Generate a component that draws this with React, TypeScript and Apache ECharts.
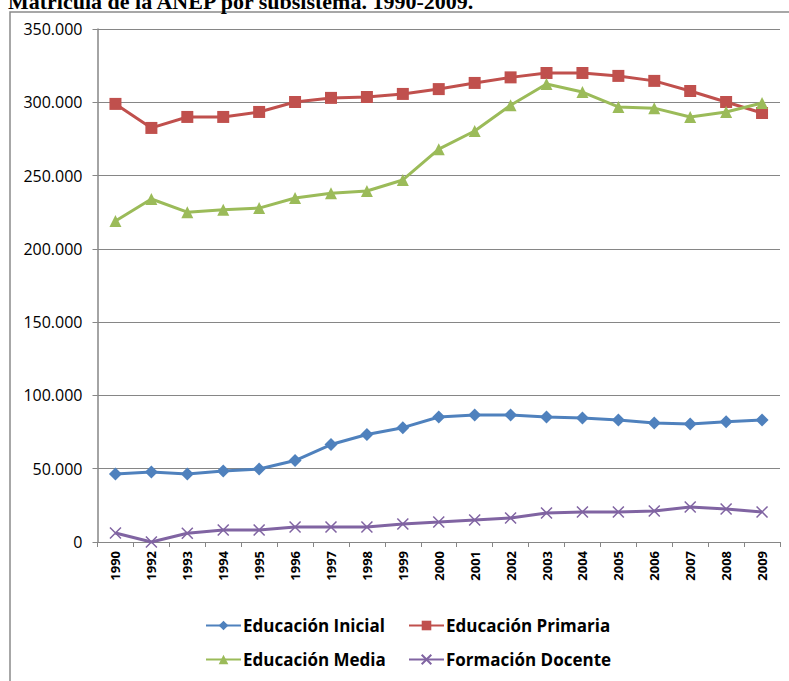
import React, { useEffect, useRef } from "react";
import * as echarts from "echarts";

const years = ["1990", "1992", "1993", "1994", "1995", "1996", "1997", "1998", "1999", "2000", "2001", "2002", "2003", "2004", "2005", "2006", "2007", "2008", "2009"];
const inicial = [46400, 47700, 46400, 48400, 49800, 55600, 66500, 73300, 78000, 85300, 86700, 86700, 85300, 84600, 83200, 81200, 80500, 82000, 83200];
const primaria = [298900, 282500, 290000, 290000, 293400, 300200, 303000, 303600, 305700, 309000, 313200, 317000, 320000, 320000, 318000, 314600, 307700, 300200, 292700];
const media = [219000, 234000, 225000, 226600, 227800, 234700, 238000, 239500, 247000, 268000, 280400, 298000, 312500, 307000, 296800, 296000, 290000, 293400, 299500];
const docente = [6100, 0, 6000, 8200, 8200, 10200, 10200, 10200, 12300, 13600, 15000, 16400, 19800, 20500, 20500, 21200, 23900, 22500, 20500];
const yTicks = { min: 0, max: 350000, interval: 50000 };
const title = "Matrícula de la ANEP por subsistema. 1990-2009.";

const names = ["Educación Inicial", "Educación Primaria", "Educación Media", "Formación Docente"];
const colors = ["#4F81BD", "#C0504D", "#9BBB59", "#8064A2"];
const FONT = "'Open Sans', 'Noto Sans', sans-serif";

function fmt(v: number): string {
  return String(v).replace(/\B(?=(\d{3})+(?!\d))/g, ".");
}

export default function App() {
  const ref = useRef<HTMLDivElement>(null);
  useEffect(() => {
    if (!ref.current) return;
    const chart = echarts.init(ref.current, null, { renderer: "svg" });
    const legendPos = [
      { left: 205, top: 617 },
      { left: 408, top: 617 },
      { left: 205, top: 651 },
      { left: 408, top: 651 },
    ];
    const symbols = ["diamond", "rect", "triangle", "path://M0,0 L10,10 M10,0 L0,10"];
    const sizes = [13, 12, 12, 11];
    const datas = [inicial, primaria, media, docente];
    chart.setOption({
      animation: false,
      backgroundColor: "#fff",
      graphic: [
        {
          type: "rect",
          shape: { x: 10, y: 12, width: 820, height: 720 },
          style: { fill: "none", stroke: "#8a8a8a", lineWidth: 1.5 },
          silent: true,
        },
        {
          type: "text",
          left: 8,
          top: -10,
          style: {
            text: title,
            font: "bold 22px 'Liberation Serif', 'Times New Roman', serif",
            fill: "#000",
          },
        },
      ],
      grid: { left: 97.5, right: 9, top: 29, bottom: 139, containLabel: false },
      legend: names.map((n, i) => ({
        data: [n],
        left: legendPos[i].left,
        top: legendPos[i].top,
        itemWidth: 35,
        itemHeight: 12,
        itemGap: 0,
        padding: 0,
        textStyle: { fontFamily: FONT, fontWeight: "bold", fontSize: 17, color: "#000", padding: [0, 0, 0, -3] },
      })),
      xAxis: {
        type: "category",
        data: years,
        boundaryGap: true,
        axisLine: { lineStyle: { color: "#868686", width: 1 } },
        axisTick: { show: true, interval: 0, length: 5, lineStyle: { color: "#868686" } },
        axisLabel: {
          interval: 0,
          rotate: 90,
          fontFamily: FONT,
          fontWeight: "bold",
          fontSize: 13,
          color: "#000",
          margin: 9,
        },
      },
      yAxis: {
        type: "value",
        min: yTicks.min,
        max: yTicks.max,
        interval: yTicks.interval,
        axisLine: { show: true, lineStyle: { color: "#868686", width: 1.5 } },
        axisTick: { show: true, length: 5, lineStyle: { color: "#868686" } },
        splitLine: { lineStyle: { color: "#868686", width: 1 } },
        axisLabel: {
          formatter: (v: number) => fmt(v),
          fontFamily: FONT,
          fontSize: 16,
          color: "#000",
          margin: 15,
        },
      },
      series: names.map((n, i) => ({
        name: n,
        type: "line",
        data: datas[i],
        symbol: symbols[i],
        symbolSize: sizes[i],
        showSymbol: true,
        lineStyle: { color: colors[i], width: 3 },
        itemStyle: i === 3
          ? { color: colors[i], borderColor: colors[i], borderWidth: 1.5 }
          : { color: colors[i], borderColor: colors[i], borderWidth: 0 },
        z: 2 + i,
      })),
    });
    return () => chart.dispose();
  }, []);
  return (
    <div
      ref={ref}
      style={{ position: "absolute", left: 0, top: 0, width: 789, height: 681 }}
    />
  );
}
